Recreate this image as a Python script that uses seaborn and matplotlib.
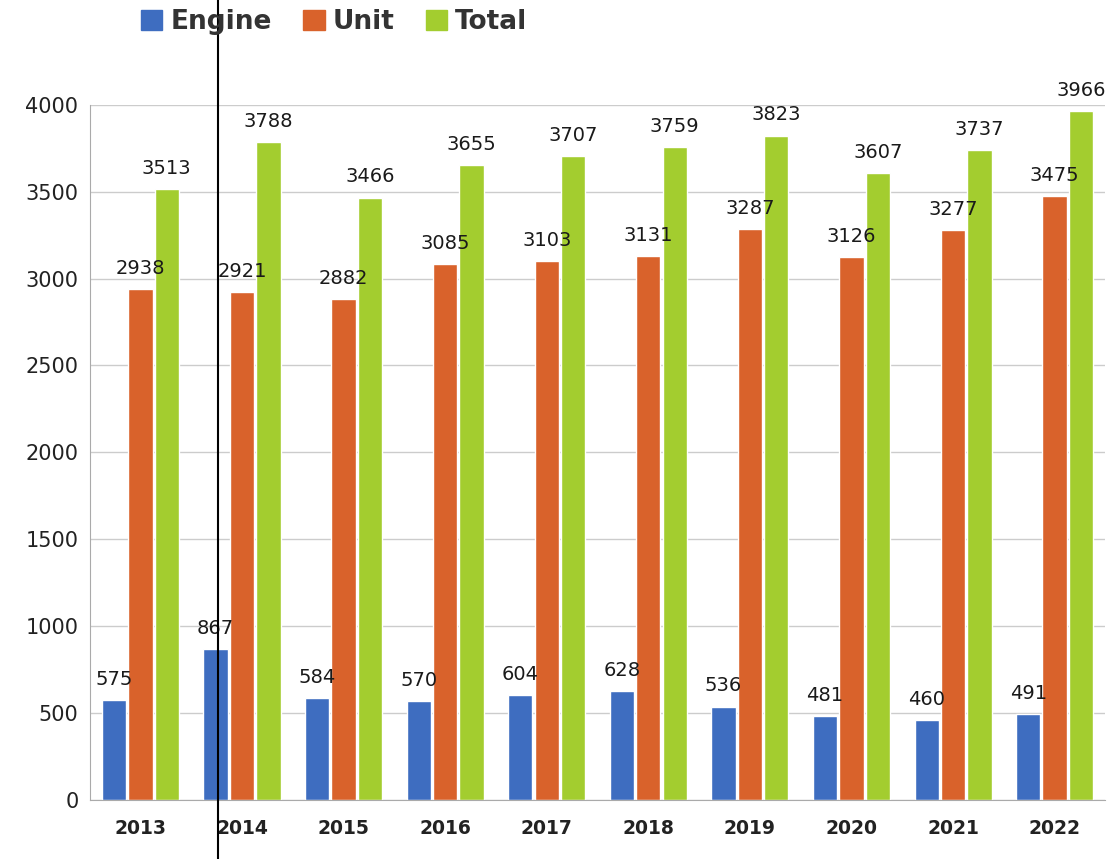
import pandas as pd
import matplotlib.pyplot as plt
import seaborn as sns

years = ['2013', '2014', '2015', '2016', '2017', '2018', '2019', '2020', '2021', '2022']
engine = [575, 867, 584, 570, 604, 628, 536, 481, 460, 491]
unit = [2938, 2921, 2882, 3085, 3103, 3131, 3287, 3126, 3277, 3475]
total = [3513, 3788, 3466, 3655, 3707, 3759, 3823, 3607, 3737, 3966]

df = pd.DataFrame({'Year': years * 3,
                   'Series': ['Engine'] * 10 + ['Unit'] * 10 + ['Total'] * 10,
                   'Value': engine + unit + total})

colors = ['#3E6DC0', '#D9622B', '#A3CD2F']

sns.set_style('white')
fig = plt.figure(figsize=(11.2, 8.59), dpi=100)
ax = fig.add_axes([0.08, 0.069, 0.907, 0.809])

sns.barplot(data=df, x='Year', y='Value', hue='Series', palette=colors,
            saturation=1, width=0.78, gap=0.08, ax=ax, legend=False)

for cont in ax.containers:
    ax.bar_label(cont, fmt='%d', padding=8, fontsize=14, color='#1a1a1a')

ax.set_ylim(0, 4000)
ax.set_yticks(range(0, 4001, 500))
ax.yaxis.grid(True, color='#cccccc', linewidth=1)
ax.set_axisbelow(True)
ax.tick_params(axis='y', labelsize=15, length=0, pad=8, labelcolor='#222222')
ax.tick_params(axis='x', labelsize=13.5, length=0, pad=14, labelcolor='#222222')
for lab in ax.get_xticklabels():
    lab.set_fontweight('bold')
ax.set_xlabel('')
ax.set_ylabel('')
for s in ['top', 'right']:
    ax.spines[s].set_visible(False)
ax.spines['left'].set_color('#aaaaaa')
ax.spines['bottom'].set_color('#aaaaaa')

handles = [plt.Rectangle((0, 0), 1, 1, color=c) for c in colors]
leg = fig.legend(handles, ['Engine', 'Unit', 'Total'], loc='center left',
                 bbox_to_anchor=(0.105, 0.974), ncol=3, frameon=False,
                 prop={'size': 19, 'weight': 'bold'}, handlelength=0.8,
                 handleheight=0.8, handletextpad=0.3, columnspacing=1.2)
for t in leg.get_texts():
    t.set_color('#333333')

fig.add_artist(plt.Line2D([0.195, 0.195], [0, 1], color='black', linewidth=1.5))

fig.savefig('out.png', dpi=100)
